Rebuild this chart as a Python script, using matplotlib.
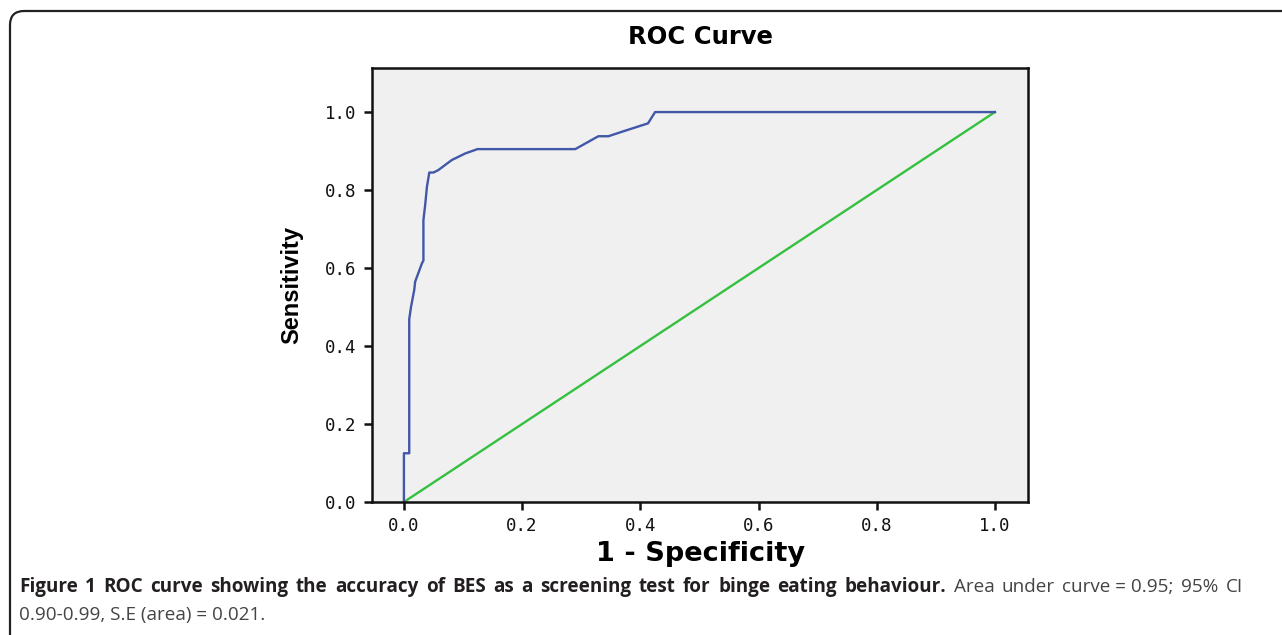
import numpy as np
import matplotlib
matplotlib.use('Agg')
import matplotlib.pyplot as plt
from matplotlib.patches import FancyBboxPatch

# ROC curve points (1 - specificity, sensitivity)
fpr = [0.0, 0.0, 0.009, 0.009, 0.012, 0.0175, 0.019, 0.0305, 0.033, 0.033,
       0.036, 0.039, 0.043, 0.050, 0.058, 0.081, 0.104, 0.1245, 0.290,
       0.329, 0.346, 0.374, 0.413, 0.425, 1.0]
tpr = [0.0, 0.125, 0.125, 0.469, 0.50, 0.544, 0.565, 0.612, 0.619, 0.723,
       0.762, 0.809, 0.845, 0.845, 0.851, 0.877, 0.894, 0.905, 0.905,
       0.938, 0.938, 0.952, 0.971, 1.0, 1.0]
ref_line = [0.0, 1.0]
ticks = [0.0, 0.2, 0.4, 0.6, 0.8, 1.0]
tick_labels = ['0.0', '0.2', '0.4', '0.6', '0.8', '1.0']

cap_bold = 'Figure 1 ROC curve showing the accuracy of BES as a screening test for binge eating behaviour.'
cap_rest = ['Area', 'under', 'curve = 0.95;', '95%', 'CI']
cap_line2 = '0.90-0.99, S.E (area) = 0.021.'

W, H = 1282, 635
fig = plt.figure(figsize=(W / 100, H / 100), dpi=100)

# rounded frame, runs off the right and bottom edges
frame = FancyBboxPatch((10 / W, -0.1), 1.2, (H - 11) / H + 0.1,
                       boxstyle='round,pad=0,rounding_size=0.011',
                       transform=fig.transFigure, fill=False,
                       edgecolor='#222222', linewidth=1.6,
                       mutation_aspect=W / H)
fig.patches.append(frame)

ax = fig.add_axes([372 / W, 1 - 502 / H, (1028 - 372) / W, (502 - 68) / H])
ax.set_facecolor('#f0f0f0')
ax.plot(ref_line, ref_line, color='#35c040', linewidth=1.7)
ax.plot(fpr, tpr, color='#4257a8', linewidth=1.7)

ax.set_xlim(-0.054, 1.056)
ax.set_ylim(0.0, 1.113)
ax.set_xticks(ticks)
ax.set_yticks(ticks)
ax.set_xticklabels(tick_labels, fontfamily='DejaVu Sans Mono', fontsize=12.5)
ax.set_yticklabels(tick_labels, fontfamily='DejaVu Sans Mono', fontsize=12.5)
ax.tick_params(direction='out', length=6, width=1.8, colors='#111111', pad=5)
for s in ax.spines.values():
    s.set_linewidth(1.8)
    s.set_color('#111111')

ax.set_title('ROC Curve', fontfamily='DejaVu Sans', fontweight='bold',
             fontsize=17.5, pad=17)
ax.set_xlabel('1 - Specificity', fontfamily='DejaVu Sans', fontweight='bold',
              fontsize=19.5, labelpad=4)
ax.set_ylabel('Sensitivity', fontfamily='Liberation Sans', fontweight='bold',
              fontsize=17, labelpad=16)

# caption line 1 is justified: lay out word by word
renderer = fig.canvas.get_renderer()
cap_font = 'Open Sans'
cap_size = 13.6
words = [(w, True) for w in cap_bold.split()] + [(w, False) for w in cap_rest]
texts = []
for w, bold in words:
    t = fig.text(0, 1 - 592 / H, w, fontfamily=cap_font, fontsize=cap_size,
                 fontweight='bold' if bold else 'normal',
                 color='#231f20' if bold else '#444444')
    texts.append(t)
widths = [t.get_window_extent(renderer).width for t in texts]
x_left, x_right = 19, 1243
gap = (x_right - x_left - sum(widths)) / (len(texts) - 1)
x = x_left
for t, wd in zip(texts, widths):
    t.set_x(x / W)
    x += wd + gap
fig.text(x_left / W, 1 - 620 / H, cap_line2,
         fontfamily=cap_font, fontsize=cap_size, color='#444444')

fig.savefig('out.png', dpi=100)
